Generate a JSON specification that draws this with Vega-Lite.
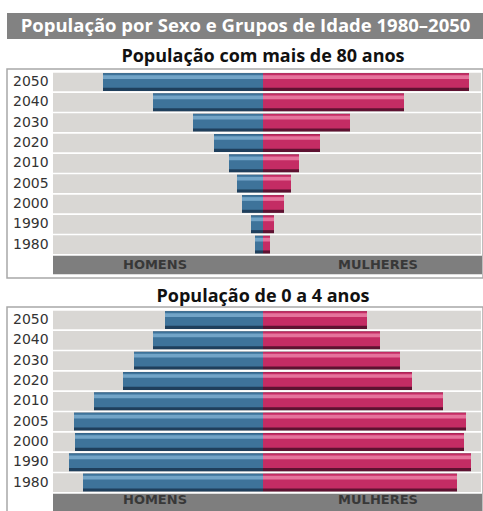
{
  "$schema": "https://vega.github.io/schema/vega-lite/v6.json",
  "background": "white",
  "padding": {"left": 6, "top": 13, "right": 0, "bottom": 0},
  "spacing": 8,
  "config": {
    "font": "Open Sans",
    "view": {"fill": "white", "stroke": "#a8a8a8", "strokeWidth": 1.5}
  },
  "datasets": {
    "idosos": [
      {"ano": "2050", "sexo": "Homens", "valor": -160}, {"ano": "2050", "sexo": "Mulheres", "valor": 206},
      {"ano": "2040", "sexo": "Homens", "valor": -110}, {"ano": "2040", "sexo": "Mulheres", "valor": 141},
      {"ano": "2030", "sexo": "Homens", "valor": -70}, {"ano": "2030", "sexo": "Mulheres", "valor": 87},
      {"ano": "2020", "sexo": "Homens", "valor": -49}, {"ano": "2020", "sexo": "Mulheres", "valor": 57},
      {"ano": "2010", "sexo": "Homens", "valor": -34}, {"ano": "2010", "sexo": "Mulheres", "valor": 36},
      {"ano": "2005", "sexo": "Homens", "valor": -26}, {"ano": "2005", "sexo": "Mulheres", "valor": 28},
      {"ano": "2000", "sexo": "Homens", "valor": -21}, {"ano": "2000", "sexo": "Mulheres", "valor": 21},
      {"ano": "1990", "sexo": "Homens", "valor": -12}, {"ano": "1990", "sexo": "Mulheres", "valor": 11},
      {"ano": "1980", "sexo": "Homens", "valor": -8}, {"ano": "1980", "sexo": "Mulheres", "valor": 7}
    ],
    "criancas": [
      {"ano": "2050", "sexo": "Homens", "valor": -98}, {"ano": "2050", "sexo": "Mulheres", "valor": 104},
      {"ano": "2040", "sexo": "Homens", "valor": -110}, {"ano": "2040", "sexo": "Mulheres", "valor": 117},
      {"ano": "2030", "sexo": "Homens", "valor": -129}, {"ano": "2030", "sexo": "Mulheres", "valor": 137},
      {"ano": "2020", "sexo": "Homens", "valor": -140}, {"ano": "2020", "sexo": "Mulheres", "valor": 149},
      {"ano": "2010", "sexo": "Homens", "valor": -169}, {"ano": "2010", "sexo": "Mulheres", "valor": 180},
      {"ano": "2005", "sexo": "Homens", "valor": -189}, {"ano": "2005", "sexo": "Mulheres", "valor": 203},
      {"ano": "2000", "sexo": "Homens", "valor": -188}, {"ano": "2000", "sexo": "Mulheres", "valor": 201},
      {"ano": "1990", "sexo": "Homens", "valor": -194}, {"ano": "1990", "sexo": "Mulheres", "valor": 208},
      {"ano": "1980", "sexo": "Homens", "valor": -180}, {"ano": "1980", "sexo": "Mulheres", "valor": 194}
    ],
    "rodape": [{"ano": "rodapé"}]
  },
  "vconcat": [
    {
      "width": 477,
      "height": 26,
      "view": {"fill": "#828282", "stroke": null},
      "data": {"values": [{"t": "População por Sexo e Grupos de Idade 1980–2050"}]},
      "mark": {"type": "text", "color": "white", "fontSize": 18.5, "fontWeight": "bold"},
      "encoding": {"text": {"field": "t", "type": "nominal"}}
    },
    {
      "width": 476,
      "height": 209,
      "title": {"text": "População com mais de 80 anos", "fontSize": 18, "fontWeight": "bold", "color": "#111111", "anchor": "middle", "dx": 18, "offset": 3},
      "layer": [
        {
          "data": {"name": "idosos"},
          "transform": [{"filter": "datum.sexo == 'Homens'"}],
          "mark": {"type": "bar", "color": "#d9d7d4"},
          "encoding": {
            "y": {"field": "ano", "type": "nominal", "axis": null, "scale": {"domain": ["2050", "2040", "2030", "2020", "2010", "2005", "2000", "1990", "1980", "rodapé"], "paddingInner": 0.08, "paddingOuter": 0.18}},
            "x": {"datum": -210, "type": "quantitative", "axis": null, "scale": {"domain": [-256, 220], "nice": false, "zero": false}},
            "x2": {"datum": 218}
          }
        },
        {
          "data": {"name": "idosos"},
          "transform": [{"filter": "datum.sexo == 'Homens'"}],
          "mark": {"type": "text", "align": "left", "baseline": "middle", "font": "DejaVu Sans", "fontSize": 14, "color": "#333333"},
          "encoding": {
            "y": {"field": "ano", "type": "nominal"},
            "x": {"datum": -250, "type": "quantitative"},
            "text": {"field": "ano", "type": "nominal"}
          }
        },
        {
          "data": {"name": "rodape"},
          "mark": {"type": "bar", "color": "#7e7e7e"},
          "encoding": {
            "y": {"field": "ano", "type": "nominal"},
            "x": {"datum": -210, "type": "quantitative"},
            "x2": {"datum": 219}
          }
        },
        {
          "data": {"name": "rodape"},
          "mark": {"type": "text", "text": "HOMENS", "font": "DejaVu Sans", "fontSize": 13, "fontWeight": "bold", "color": "#383838", "baseline": "middle"},
          "encoding": {"y": {"field": "ano", "type": "nominal"}, "x": {"datum": -108, "type": "quantitative"}}
        },
        {
          "data": {"name": "rodape"},
          "mark": {"type": "text", "text": "MULHERES", "font": "DejaVu Sans", "fontSize": 13, "fontWeight": "bold", "color": "#383838", "baseline": "middle"},
          "encoding": {"y": {"field": "ano", "type": "nominal"}, "x": {"datum": 115, "type": "quantitative"}}
        },
        {
          "data": {"name": "idosos"},
          "mark": {"type": "bar", "height": {"band": 0.95}},
          "encoding": {
            "y": {"field": "ano", "type": "nominal"},
            "x": {"field": "valor", "type": "quantitative"},
            "color": {"condition": {"test": "datum.sexo == 'Homens'", "value": "#1f3f5c"}, "value": "#5e1231"}
          }
        },
        {
          "data": {"name": "idosos"},
          "mark": {"type": "bar", "height": {"band": 0.78}, "yOffset": -1.5},
          "encoding": {
            "y": {"field": "ano", "type": "nominal"},
            "x": {"field": "valor", "type": "quantitative"},
            "color": {"condition": {"test": "datum.sexo == 'Homens'", "value": "#3e739a"}, "value": "#c42c64"}
          }
        },
        {
          "data": {"name": "idosos"},
          "mark": {"type": "bar", "height": {"band": 0.2}, "yOffset": -5},
          "encoding": {
            "y": {"field": "ano", "type": "nominal"},
            "x": {"field": "valor", "type": "quantitative"},
            "color": {"condition": {"test": "datum.sexo == 'Homens'", "value": "#72a4c7"}, "value": "#e5739c"}
          }
        }
      ]
    },
    {
      "width": 476,
      "height": 209,
      "title": {"text": "População de 0 a 4 anos", "fontSize": 18, "fontWeight": "bold", "color": "#111111", "anchor": "middle", "dx": 18, "offset": 1},
      "layer": [
        {
          "data": {"name": "criancas"},
          "transform": [{"filter": "datum.sexo == 'Homens'"}],
          "mark": {"type": "bar", "color": "#d9d7d4"},
          "encoding": {
            "y": {"field": "ano", "type": "nominal", "axis": null, "scale": {"domain": ["2050", "2040", "2030", "2020", "2010", "2005", "2000", "1990", "1980", "rodapé"], "paddingInner": 0.08, "paddingOuter": 0.18}},
            "x": {"datum": -210, "type": "quantitative", "axis": null, "scale": {"domain": [-256, 220], "nice": false, "zero": false}},
            "x2": {"datum": 218}
          }
        },
        {
          "data": {"name": "criancas"},
          "transform": [{"filter": "datum.sexo == 'Homens'"}],
          "mark": {"type": "text", "align": "left", "baseline": "middle", "font": "DejaVu Sans", "fontSize": 14, "color": "#333333"},
          "encoding": {
            "y": {"field": "ano", "type": "nominal"},
            "x": {"datum": -250, "type": "quantitative"},
            "text": {"field": "ano", "type": "nominal"}
          }
        },
        {
          "data": {"name": "rodape"},
          "mark": {"type": "bar", "color": "#7e7e7e"},
          "encoding": {
            "y": {"field": "ano", "type": "nominal"},
            "x": {"datum": -210, "type": "quantitative"},
            "x2": {"datum": 219}
          }
        },
        {
          "data": {"name": "rodape"},
          "mark": {"type": "text", "text": "HOMENS", "font": "DejaVu Sans", "fontSize": 13, "fontWeight": "bold", "color": "#383838", "baseline": "middle", "dy": -3},
          "encoding": {"y": {"field": "ano", "type": "nominal"}, "x": {"datum": -108, "type": "quantitative"}}
        },
        {
          "data": {"name": "rodape"},
          "mark": {"type": "text", "text": "MULHERES", "font": "DejaVu Sans", "fontSize": 13, "fontWeight": "bold", "color": "#383838", "baseline": "middle", "dy": -3},
          "encoding": {"y": {"field": "ano", "type": "nominal"}, "x": {"datum": 115, "type": "quantitative"}}
        },
        {
          "data": {"name": "criancas"},
          "mark": {"type": "bar", "height": {"band": 0.95}},
          "encoding": {
            "y": {"field": "ano", "type": "nominal"},
            "x": {"field": "valor", "type": "quantitative"},
            "color": {"condition": {"test": "datum.sexo == 'Homens'", "value": "#1f3f5c"}, "value": "#5e1231"}
          }
        },
        {
          "data": {"name": "criancas"},
          "mark": {"type": "bar", "height": {"band": 0.78}, "yOffset": -1.5},
          "encoding": {
            "y": {"field": "ano", "type": "nominal"},
            "x": {"field": "valor", "type": "quantitative"},
            "color": {"condition": {"test": "datum.sexo == 'Homens'", "value": "#3e739a"}, "value": "#c42c64"}
          }
        },
        {
          "data": {"name": "criancas"},
          "mark": {"type": "bar", "height": {"band": 0.2}, "yOffset": -5},
          "encoding": {
            "y": {"field": "ano", "type": "nominal"},
            "x": {"field": "valor", "type": "quantitative"},
            "color": {"condition": {"test": "datum.sexo == 'Homens'", "value": "#72a4c7"}, "value": "#e5739c"}
          }
        }
      ]
    }
  ]
}
